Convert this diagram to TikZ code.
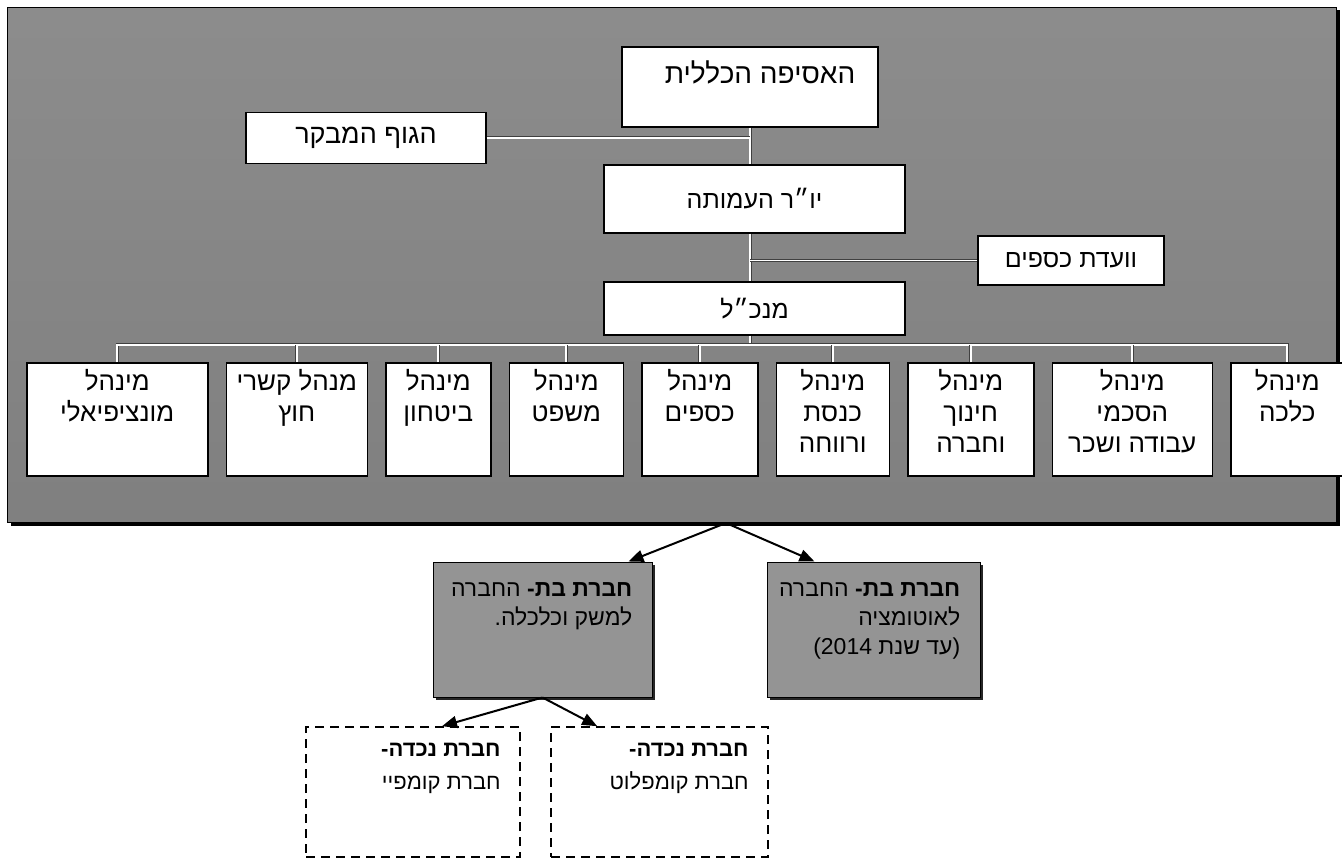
\documentclass[tikz,border=0pt]{standalone}
\usepackage{fontspec}
\newfontfamily\hebfont[Script=Hebrew]{Liberation Sans}
\TeXXeTstate=1
\usetikzlibrary{arrows.meta,positioning,shadows}
\newcommand{\topfont}{\hebfont\fontsize{25}{30}\selectfont}
\newcommand{\rowfont}{\hebfont\fontsize{26}{31}\selectfont}
\newcommand{\subfont}{\hebfont\fontsize{23}{29}\selectfont}
\newcommand{\grandfont}{\hebfont\fontsize{22}{33}\selectfont}

\begin{document}
\begin{tikzpicture}[x=1pt,y=-1pt,
    topbox/.style={draw, fill=white, line width=1.4pt, inner sep=0pt, font=\topfont},
    unit/.style={draw, fill=white, line width=1.5pt, minimum height=113pt, inner sep=0pt},
    utext/.style={anchor=north, yshift=-5pt, align=center, font=\rowfont, inner sep=2pt},
    stext/.style={anchor=north east, xshift=-18pt, yshift=-19pt, align=right, font=\subfont, inner sep=2pt},
    gtext/.style={anchor=north east, xshift=-18pt, yshift=-15pt, align=right, font=\grandfont, inner sep=2pt},
    link/.style={draw=black!75, double=white, double distance=1.6pt, line width=0.7pt},
    arr/.style={-{Triangle[length=15pt,width=12pt]}, line width=2pt},
    subbox/.style={draw, fill=black!42, line width=1pt, minimum width=216pt, minimum height=135pt,
        drop shadow={shadow xshift=3pt, shadow yshift=-3pt, fill=black!85, opacity=1}},
    grandbox/.style={draw, dash pattern=on 9pt off 6pt, line width=1.6pt, minimum width=214pt, minimum height=130pt}]

\useasboundingbox (0,0) rectangle (1342,861);
\fill[white] (0,0) rectangle (1342,861);

% background panel
\node[draw, line width=1pt, top color=black!45, middle color=black!70, bottom color=black!50,
      minimum width=1329pt, minimum height=515pt, anchor=north west,
      drop shadow={shadow xshift=3pt, shadow yshift=-3pt, fill=black, opacity=1}] (panel) at (7,7) {};

% upper levels
\node[topbox, minimum width=256pt, minimum height=80pt,
      label={[anchor=north east, xshift=-20pt, yshift=-11pt, font=\hebfont\fontsize{28}{32}\selectfont]north east:{\beginR האסיפה הכללית\endR}}] (asm) at (750,87) {};
\node[topbox, minimum width=240pt, minimum height=51pt, font=\hebfont\fontsize{27}{30}\selectfont] (audit) at (366,138) {\beginR הגוף המבקר\endR};
\node[topbox, minimum width=301pt, minimum height=68pt] (chair) at (754.5,199) {\beginR יו״ר העמותה\endR};
\node[topbox, minimum width=186pt, minimum height=49pt] (fin) at (1071,260.5) {\beginR וועדת כספים\endR};
\node[topbox, minimum width=301pt, minimum height=53pt] (mgr) at (754.5,308.5) {\beginR מנכ״ל\endR};

% directorates
\node[unit, minimum width=181pt, anchor=north west,
      label={[utext]north:{\beginR מינהל\endR\\\beginR מונציפיאלי\endR}}] (b1) at (26,362) {};
\node[unit, minimum width=141pt, right=17pt of b1,
      label={[utext]north:{\beginR מנהל קשרי\endR\\\beginR חוץ\endR}}] (b2) {};
\node[unit, minimum width=105pt, right=17pt of b2,
      label={[utext]north:{\beginR מינהל\endR\\\beginR ביטחון\endR}}] (b3) {};
\node[unit, minimum width=114pt, right=17pt of b3,
      label={[utext]north:{\beginR מינהל\endR\\\beginR משפט\endR}}] (b4) {};
\node[unit, minimum width=116pt, right=17pt of b4,
      label={[utext]north:{\beginR מינהל\endR\\\beginR כספים\endR}}] (b5) {};
\node[unit, minimum width=113pt, right=17pt of b5,
      label={[utext]north:{\beginR מינהל\endR\\\beginR כנסת\endR\\\beginR ורווחה\endR}}] (b6) {};
\node[unit, minimum width=126pt, right=17pt of b6,
      label={[utext]north:{\beginR מינהל\endR\\\beginR חינוך\endR\\\beginR וחברה\endR}}] (b7) {};
\node[unit, minimum width=160pt, right=17pt of b7,
      label={[utext]north:{\beginR מינהל\endR\\\beginR הסכמי\endR\\\beginR עבודה ושכר\endR}}] (b8) {};
\node[unit, minimum width=113pt, right=17pt of b8,
      label={[utext]north:{\beginR מינהל\endR\\\beginR כלכה\endR}}] (b9) {};

\draw[link] (asm.south) -- (asm.south |- chair.north);
\draw[link] (audit.east) -- (audit.east -| asm.south);
\draw[link] (chair.south -| asm.south) -- (mgr.north -| asm.south);
\draw[link] (fin.west) -- (fin.west -| asm.south);
\draw[link] (mgr.south -| asm.south) -- ++(0,9) coordinate (bus);
\draw[link] (b1.north) |- (bus) -| (b9.north);
\foreach \i in {2,...,8}
    \draw[link] (b\i.north) -- (b\i.north |- bus);

% subsidiaries
\node[subbox, minimum width=219pt,
      label={[stext]north east:{\beginR\textbf{חברת בת-} החברה\endR\\\beginR למשק וכלכלה.\endR}}] (lsub) at (542.5,629.5) {};
\node[subbox, minimum width=213pt,
      label={[stext]north east:{\beginR\textbf{חברת בת-} החברה\endR\\\beginR לאוטומציה\endR\\\beginR(עד שנת 2014)\endR}}] (rsub) at (873.5,629.5) {};

\node[grandbox,
      label={[gtext]north east:{\beginR\textbf{חברת נכדה-}\endR\\\beginR חברת קומפיי\endR}}] (ldash) at (413,792) {};
\node[grandbox, minimum width=217pt,
      label={[gtext]north east:{\beginR\textbf{חברת נכדה-}\endR\\\beginR חברת קומפלוט\endR}}] (rdash) at (659.5,792) {};

\coordinate (hub) at (726,523);
\draw[arr] (hub) -- ([xshift=-24pt]lsub.north east);
\draw[arr] (hub) -- ([xshift=48pt]rsub.north west);
\draw[arr] (lsub.south) -- ([xshift=29pt]ldash.north);
\draw[arr] (lsub.south) -- ([xshift=47pt]rdash.north west);
\end{tikzpicture}
\end{document}
